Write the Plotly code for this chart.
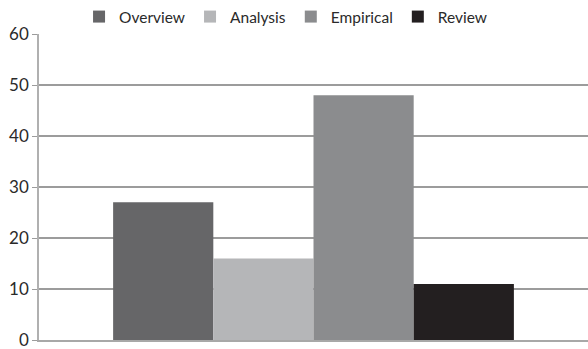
import plotly.graph_objects as go

categories = ["Overview", "Analysis", "Empirical", "Review"]
values = [27, 16, 48, 11]
colors = ["#666668", "#b5b6b8", "#8b8c8e", "#231f20"]
y_ticks = [0, 10, 20, 30, 40, 50, 60]

fig = go.Figure()
for name, v, c in zip(categories, values, colors):
    fig.add_trace(go.Bar(x=[""], y=[v], name=name, marker=dict(color=c, line=dict(width=0))))

fig.update_layout(
    template="none",
    width=588, height=349,
    margin=dict(l=39, r=0, t=33, b=9),
    barmode="group", bargap=0.27, bargroupgap=0,
    paper_bgcolor="white", plot_bgcolor="white",
    font=dict(family="Lato", size=16, color="#2a2a2a"),
    legend=dict(orientation="h", x=0.45, xanchor="center", y=1.0, yanchor="bottom",
                font=dict(family="Lato", size=15.5, color="#2a2a2a"), itemwidth=30, tracegroupgap=0,
                bgcolor="rgba(0,0,0,0)"),
    showlegend=True,
)
fig.update_yaxes(range=[0, 60], tickvals=y_ticks, showgrid=True, gridcolor="#9c9c9c", gridwidth=1.5,
                 showline=True, linecolor="#b0b0b0", linewidth=1.5, ticks="outside", ticklen=5,
                 tickcolor="#9c9c9c", zeroline=False, ticklabeloverflow="allow",
                 tickfont=dict(family="Lato", size=17, color="#2a2a2a"))
fig.update_xaxes(showticklabels=False, showgrid=False, showline=True, linecolor="#a8a8a8",
                 linewidth=1.5, zeroline=False)
fig.write_html("out.html")
